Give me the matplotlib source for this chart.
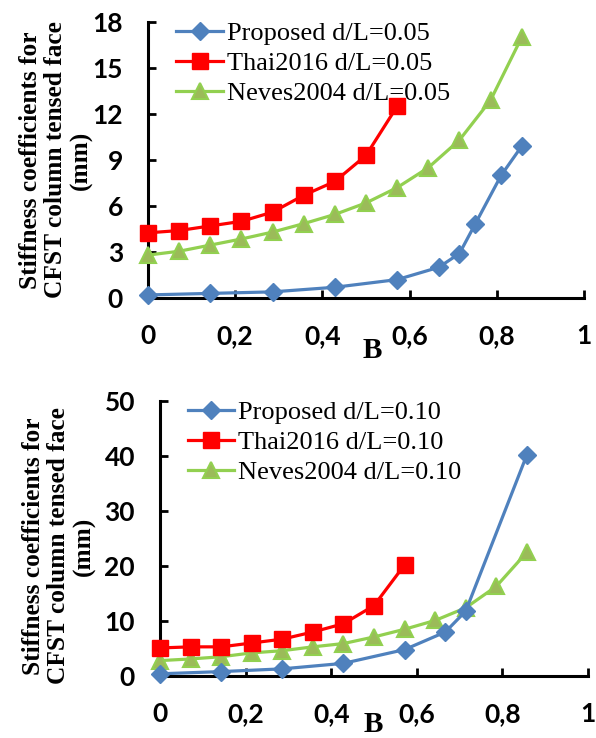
import matplotlib
matplotlib.use("Agg")
from matplotlib import pyplot as plt

# x positions (beta) and values
x_prop_a = [0, 1/7, 2/7, 3/7, 4/7, 2/3, 5/7, 0.75, 0.81, 6/7]
prop_a = [0.2, 0.3, 0.4, 0.7, 1.2, 2.0, 2.9, 4.8, 8.0, 9.9]
x_thai_a = [k / 14 for k in range(9)]
thai_a = [4.25, 4.4, 4.7, 5.0, 5.6, 6.7, 7.6, 9.3, 12.5]
x_nev_a = [k / 14 for k in range(13)]
nev_a = [2.8, 3.05, 3.45, 3.85, 4.3, 4.85, 5.45, 6.2, 7.2, 8.5, 10.3, 12.9, 17.0]

x_prop_b = [0, 1/7, 2/7, 3/7, 4/7, 2/3, 5/7, 6/7]
prop_b = [0.4, 0.8, 1.3, 2.3, 4.8, 8.0, 11.8, 40.2]
x_thai_b = [k / 14 for k in range(9)]
thai_b = [5.1, 5.3, 5.3, 6.0, 6.7, 8.0, 9.5, 12.8, 20.2]
x_nev_b = [k / 14 for k in range(13)]
nev_b = [2.8, 3.1, 3.5, 4.2, 4.6, 5.3, 5.9, 7.1, 8.5, 10.1, 12.4, 16.3, 22.5]

x_ticks = [0, 0.2, 0.4, 0.6, 0.8, 1]
x_ticklabels = ["0", "0,2", "0,4", "0,6", "0,8", "1"]
ylabel = "Stiffness coefficients for\nCFST column tensed face\n(mm)"

blue = "#4F81BD"
red = "#FF0000"
green = "#92D050"
olive = "#9BBB59"

fig = plt.figure(figsize=(5.96, 7.38), dpi=100)
ax1 = fig.add_axes([148/596, 1 - 298/738, 436/596, 276/738])
ax2 = fig.add_axes([160/596, 1 - 676/738, 428/596, 275/738])

panels = [
    (ax1, x_prop_a, prop_a, x_thai_a, thai_a, x_nev_a, nev_a, "0.05", 18, [0, 3, 6, 9, 12, 15, 18]),
    (ax2, x_prop_b, prop_b, x_thai_b, thai_b, x_nev_b, nev_b, "0.10", 50, [0, 10, 20, 30, 40, 50]),
]

for ax, xp, yp, xt, yt, xn, yn, dl, ymax, yticks in panels:
    ax.plot(xp, yp, color=blue, lw=2.3, marker="D", ms=9, mfc=blue, mec=blue,
            label="Proposed d/L=" + dl, clip_on=False, zorder=5)
    ax.plot(xt, yt, color=red, lw=2.3, marker="s", ms=11, mfc=red, mec=red,
            label="Thai2016 d/L=" + dl, clip_on=False, zorder=4)
    ax.plot(xn, yn, color=green, lw=2.3, marker="^", ms=11, mfc=olive, mec=green, mew=1.5,
            label="Neves2004 d/L=" + dl, clip_on=False, zorder=3)
    ax.set_xlim(0, 1)
    ax.set_ylim(0, ymax)
    ax.set_xticks(x_ticks)
    ax.set_xticklabels(x_ticklabels)
    ax.set_yticks(yticks)
    for s in ["top", "right"]:
        ax.spines[s].set_visible(False)
    for s in ["left", "bottom"]:
        ax.spines[s].set_linewidth(2.2)
    ax.tick_params(direction="in", length=6, width=2)
    ax.tick_params(axis="x", pad=19)
    ax.tick_params(axis="y", pad=18)
    for lab in ax.get_xticklabels() + ax.get_yticklabels():
        lab.set_fontfamily("Lato")
        lab.set_fontweight("bold")
        lab.set_fontsize(19)
    ax.legend(loc="upper left", bbox_to_anchor=(0.035, 1.05), frameon=False,
              prop={"family": "Liberation Serif", "size": 19},
              handlelength=1.75, handletextpad=0.15, labelspacing=0.25, borderpad=0)

fig.text(56/596, 1 - 160/738, ylabel, rotation=90, ha="center", va="center",
         multialignment="center", family="Liberation Serif", weight="bold",
         fontsize=18.3, linespacing=1.1)
fig.text(59/596, 1 - 546/738, ylabel, rotation=90, ha="center", va="center",
         multialignment="center", family="Liberation Serif", weight="bold",
         fontsize=18.3, linespacing=1.1)
fig.text(372/596, 1 - 350/738, "B", ha="center", va="center",
         family="Liberation Serif", weight="bold", fontsize=21)
fig.text(373/596, 1 - 724/738, "B", ha="center", va="center",
         family="Liberation Serif", weight="bold", fontsize=21)

fig.savefig("out.png", dpi=100)
